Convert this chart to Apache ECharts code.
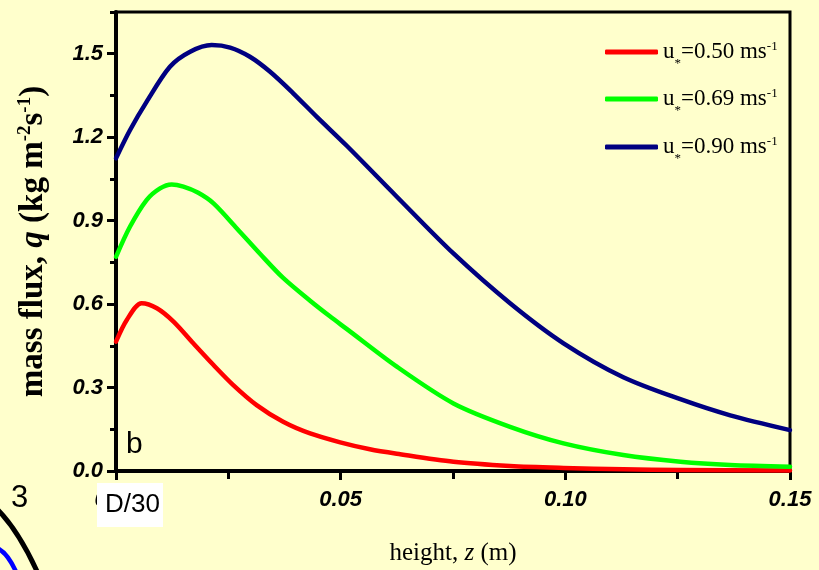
<!DOCTYPE html>
<html>
<head>
<meta charset="utf-8">
<title>Mass flux vs height</title>
<script src="https://cdn.jsdelivr.net/npm/echarts@6/dist/echarts.min.js"></script>
<style>
  html, body { margin: 0; padding: 0; background: #ffffcc; }
  #chart { width: 819px; height: 570px; }
</style>
</head>
<body>
<div id="chart"></div>
<script>
// Series names (friction velocity)
const seriesNames = ['u050', 'u069', 'u090'];
const legendTexts = ['0.50', '0.69', '0.90'];

// u* = 0.50 m/s
const heightsRed = [0, 0.0024, 0.0057, 0.0091, 0.0128, 0.0172, 0.0217, 0.0261, 0.0313, 0.0372, 0.0432, 0.0499, 0.0565, 0.0625, 0.0751, 0.0877, 0.0996, 0.1129, 0.1256, 0.15];
const fluxRed = [0.465, 0.543, 0.603, 0.585, 0.537, 0.459, 0.381, 0.309, 0.237, 0.177, 0.135, 0.103, 0.078, 0.062, 0.033, 0.018, 0.011, 0.006, 0.004, 0.002];

// u* = 0.69 m/s
const heightsGreen = [0, 0.0031, 0.0068, 0.0098, 0.0124, 0.0150, 0.0183, 0.0217, 0.0269, 0.0321, 0.0372, 0.0432, 0.0476, 0.0514, 0.0625, 0.0751, 0.0877, 0.0996, 0.1129, 0.1256, 0.1367, 0.15];
const fluxGreen = [0.770, 0.878, 0.974, 1.016, 1.030, 1.022, 1.000, 0.962, 0.872, 0.780, 0.694, 0.612, 0.556, 0.510, 0.375, 0.243, 0.159, 0.0995, 0.0575, 0.0334, 0.0216, 0.0155];

// u* = 0.90 m/s
const heightsBlue = [0, 0.0031, 0.0068, 0.0120, 0.0165, 0.0213, 0.0254, 0.0298, 0.0343, 0.0395, 0.0447, 0.0513, 0.0625, 0.0751, 0.0877, 0.0996, 0.1129, 0.1256, 0.1367, 0.15];
const fluxBlue = [1.124, 1.225, 1.327, 1.453, 1.507, 1.531, 1.522, 1.489, 1.435, 1.357, 1.273, 1.17, 0.986, 0.782, 0.603, 0.459, 0.337, 0.258, 0.200, 0.147];

// Axis ticks
const yMajorTicks = [0, 0.3, 0.6, 0.9, 1.2, 1.5];
const yMinorTicks = [0.15, 0.45, 0.75, 1.05, 1.35, 1.65];
const xMajorTicks = [0, 0.05, 0.10, 0.15];

const colors = ['#ff0000', '#00ff00', '#000080'];
const bg = '#ffffcc';

function pairs(xs, ys) { return xs.map((x, i) => [x, ys[i]]); }

const chart = echarts.init(document.getElementById('chart'), null, { renderer: 'canvas' });

const legendRich = {
  t: { fontFamily: 'Liberation Serif', fontSize: 23, color: '#000', lineHeight: 24 },
  sub: { fontFamily: 'Liberation Serif', fontSize: 13, color: '#000', verticalAlign: 'bottom', lineHeight: 14, padding: [0, 0, -6, 0] },
  sup: { fontFamily: 'Liberation Serif', fontSize: 13, color: '#000', verticalAlign: 'top', lineHeight: 14 }
};

const legendTops = [35, 82, 130];

const option = {
  backgroundColor: bg,
  animation: false,
  grid: {
    left: 116, right: 29, top: 12, bottom: 99,
    outerBoundsMode: 'none',
    show: true, borderColor: '#000', borderWidth: 3, backgroundColor: bg
  },
  legend: seriesNames.map((n, i) => ({
    data: [n],
    left: 600, top: legendTops[i],
    orient: 'vertical',
    icon: 'roundRect',
    itemWidth: 53, itemHeight: 5, itemGap: 4,
    formatter: () => '{t|u}{sub|*}{t|=' + legendTexts[i] + ' ms}{sup|-1}',
    textStyle: { rich: legendRich }
  })),
  xAxis: {
    type: 'value',
    min: 0, max: 0.15, interval: 0.05,
    name: '{n|height, }{i|z}{n| (m)}',
    nameLocation: 'middle',
    nameGap: 70,
    nameTextStyle: {
      rich: {
        n: { fontFamily: 'Liberation Serif', fontSize: 25, color: '#000' },
        i: { fontFamily: 'Liberation Serif', fontSize: 25, fontStyle: 'italic', color: '#000' }
      }
    },
    axisLine: { show: true, onZero: false, lineStyle: { color: '#000', width: 4 } },
    axisTick: { show: true, inside: false, length: 9, lineStyle: { color: '#000', width: 3 }, customValues: xMajorTicks },
    minorTick: { show: true, splitNumber: 2, length: 8, lineStyle: { color: '#000', width: 3 } },
    axisLabel: {
      customValues: xMajorTicks,
      margin: 18,
      fontFamily: 'Liberation Sans', fontWeight: 'bold', fontStyle: 'italic', fontSize: 22, color: '#000',
      formatter: v => v.toFixed(2)
    },
    splitLine: { show: false }
  },
  yAxis: [
    {
      type: 'value',
      min: 0, max: 1.65, interval: 0.3,
      name: '{b|mass flux, }{bi|q}{b| (kg m}{sup|-2}{b|s}{sup|-1}{b|)}',
      nameLocation: 'middle',
      nameRotate: 90,
      nameGap: 66,
      nameTextStyle: {
        rich: {
          b: { fontFamily: 'Liberation Serif', fontWeight: 'bold', fontSize: 33, color: '#000', lineHeight: 34 },
          bi: { fontFamily: 'Liberation Serif', fontWeight: 'bold', fontStyle: 'italic', fontSize: 33, color: '#000', lineHeight: 34 },
          sup: { fontFamily: 'Liberation Serif', fontWeight: 'bold', fontSize: 19, color: '#000', verticalAlign: 'top', lineHeight: 19 }
        }
      },
      axisLine: { show: true, onZero: false, lineStyle: { color: '#000', width: 4 } },
      axisTick: { show: true, length: 9, lineStyle: { color: '#000', width: 3 }, customValues: yMajorTicks },
      axisLabel: {
        customValues: yMajorTicks,
        margin: 13,
        fontFamily: 'Liberation Sans', fontWeight: 'bold', fontStyle: 'italic', fontSize: 22, color: '#000',
        formatter: v => v.toFixed(1)
      },
      splitLine: { show: false }
    },
    {
      // minor ticks on the left axis
      type: 'value',
      position: 'left',
      min: 0, max: 1.65, interval: 0.15,
      axisLine: { show: false, onZero: false },
      axisTick: { show: true, length: 6, lineStyle: { color: '#000', width: 3 }, customValues: yMinorTicks },
      axisLabel: { show: false },
      splitLine: { show: false }
    }
  ],
  series: [
    { name: seriesNames[0], data: pairs(heightsRed, fluxRed), color: colors[0] },
    { name: seriesNames[1], data: pairs(heightsGreen, fluxGreen), color: colors[1] },
    { name: seriesNames[2], data: pairs(heightsBlue, fluxBlue), color: colors[2] }
  ].map(s => Object.assign({
    type: 'line',
    smooth: 0.3,
    showSymbol: false,
    symbol: 'none',
    clip: true,
    lineStyle: { width: 4.5, color: s.color, cap: 'round', join: 'round' },
    itemStyle: { color: s.color },
    z: 3
  }, s)),
  graphic: [
    {
      type: 'text', left: 126, top: 430, z: 50,
      style: { text: 'b', fontFamily: 'Liberation Sans', fontSize: 30, fill: '#000' }
    },
    {
      type: 'text', left: 11, top: 483, z: 50,
      style: { text: '3', fontFamily: 'Liberation Sans', fontSize: 31, fill: '#000' }
    },
    {
      type: 'rect', z: 50,
      shape: { x: 97, y: 483, width: 66, height: 44 },
      style: { fill: '#ffffff' }
    },
    {
      type: 'text', left: 105, top: 492, z: 51,
      style: { text: 'D/30', fontFamily: 'Liberation Sans', fontSize: 26, fill: '#000' }
    },
    {
      type: 'bezierCurve', z: 50,
      shape: { x1: -3, y1: 509, x2: 40, y2: 578, cpx1: 19.7, cpy1: 531.7 },
      style: { stroke: '#000', lineWidth: 5, fill: null }
    },
    {
      type: 'bezierCurve', z: 50,
      shape: { x1: -3, y1: 548, x2: 17, y2: 574, cpx1: 8, cpy1: 553 },
      style: { stroke: '#0000ff', lineWidth: 4.5, fill: null }
    }
  ]
};

chart.setOption(option);
</script>
</body>
</html>
